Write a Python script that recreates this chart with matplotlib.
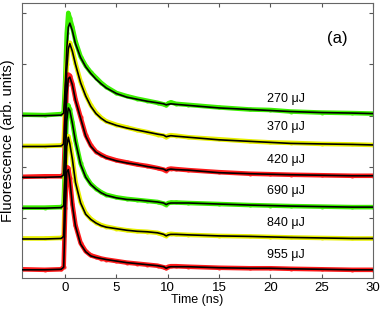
import numpy as np
import matplotlib
matplotlib.use("Agg")
import matplotlib.pyplot as plt

plt.rcParams['font.family'] = ['Liberation Sans', 'DejaVu Sans']

# ----------------------------------------------------------------------
#  Data (signal above each trace's own baseline)
# ----------------------------------------------------------------------
time_ns = [-4.2, -2.0, -0.4, -0.15, 0.0, 0.15, 0.3, 0.45, 0.7, 1.0, 1.5, 2.0,
           2.5, 3.0, 3.5, 4.0, 5.0, 6.0, 7.0, 8.0, 9.0, 9.6, 9.85, 10.05,
           10.3, 10.8, 12.0, 15.0, 18.0, 20.0, 22.0, 25.0, 28.0, 30.0]

labels = ["270 \u03bcJ", "370 \u03bcJ", "420 \u03bcJ", "690 \u03bcJ", "840 \u03bcJ", "955 \u03bcJ"]
offsets = [3.0, 2.4, 1.8, 1.2, 0.6, 0.0]
colors = ["#3cf000", "#e8f000", "#ff1a1a", "#3cf000", "#e8f000", "#ff1a1a"]

fit_270 = [0.0, 0.0, 0.01, 0.05, 0.6, 1.3, 1.72, 1.80, 1.65, 1.40, 1.13, 0.95,
           0.82, 0.71, 0.62, 0.54, 0.43, 0.36, 0.32, 0.28, 0.25, 0.23, 0.21, 0.22,
           0.23, 0.22, 0.20, 0.15, 0.12, 0.10, 0.08, 0.06, 0.05, 0.04]
fit_370 = [0.0, 0.0, 0.01, 0.05, 0.7, 1.5, 1.90, 2.00, 1.85, 1.60, 1.24, 0.98,
           0.78, 0.64, 0.55, 0.48, 0.41, 0.36, 0.32, 0.28, 0.24, 0.22, 0.19, 0.20,
           0.21, 0.20, 0.18, 0.13, 0.10, 0.08, 0.06, 0.05, 0.04, 0.03]
fit_420 = [0.0, 0.0, 0.01, 0.05, 0.8, 1.6, 1.92, 1.95, 1.80, 1.50, 1.15, 0.80,
           0.60, 0.49, 0.43, 0.38, 0.32, 0.28, 0.25, 0.21, 0.18, 0.16, 0.13, 0.15,
           0.16, 0.15, 0.14, 0.09, 0.07, 0.06, 0.05, 0.04, 0.03, 0.03]
fit_690 = [0.0, 0.0, 0.01, 0.05, 0.9, 1.7, 1.95, 1.90, 1.65, 1.30, 0.85, 0.60,
           0.46, 0.37, 0.30, 0.25, 0.20, 0.17, 0.16, 0.14, 0.12, 0.10, 0.07, 0.09,
           0.10, 0.10, 0.10, 0.08, 0.06, 0.05, 0.04, 0.03, 0.02, 0.02]
fit_840 = [0.0, 0.0, 0.01, 0.05, 1.0, 1.8, 1.98, 1.85, 1.55, 1.10, 0.70, 0.48,
           0.38, 0.31, 0.26, 0.23, 0.20, 0.17, 0.15, 0.14, 0.12, 0.09, 0.06, 0.08,
           0.09, 0.09, 0.08, 0.06, 0.05, 0.04, 0.03, 0.02, 0.01, 0.01]
fit_955 = [0.0, 0.0, 0.01, 0.05, 1.1, 1.9, 1.95, 1.75, 1.25, 0.85, 0.50, 0.35,
           0.27, 0.24, 0.22, 0.20, 0.17, 0.14, 0.12, 0.10, 0.08, 0.06, 0.03, 0.05,
           0.06, 0.06, 0.06, 0.04, 0.03, 0.03, 0.02, 0.01, 0.00, 0.00]

data_270 = [0.02, 0.01, 0.03, 0.06, 0.7, 1.6, 2.00, 1.90, 1.72, 1.45, 1.15, 0.97,
            0.84, 0.74, 0.64, 0.56, 0.44, 0.38, 0.33, 0.29, 0.25, 0.22, 0.20, 0.24,
            0.26, 0.23, 0.21, 0.16, 0.12, 0.11, 0.08, 0.06, 0.05, 0.04]
data_370 = [0.01, 0.01, 0.02, 0.06, 0.8, 1.6, 1.98, 2.02, 1.88, 1.62, 1.26, 1.00,
            0.80, 0.66, 0.56, 0.49, 0.42, 0.37, 0.32, 0.28, 0.23, 0.21, 0.18, 0.21,
            0.22, 0.21, 0.18, 0.14, 0.10, 0.08, 0.07, 0.05, 0.04, 0.03]
data_420 = [0.01, 0.02, 0.02, 0.06, 0.9, 1.8, 2.00, 1.98, 1.82, 1.52, 1.17, 0.82,
            0.62, 0.50, 0.44, 0.39, 0.33, 0.29, 0.25, 0.22, 0.18, 0.15, 0.13, 0.16,
            0.17, 0.16, 0.14, 0.10, 0.07, 0.06, 0.05, 0.04, 0.03, 0.03]
data_690 = [0.01, 0.01, 0.02, 0.06, 1.0, 1.8, 2.00, 1.92, 1.67, 1.32, 0.87, 0.62,
            0.47, 0.38, 0.31, 0.26, 0.21, 0.18, 0.16, 0.14, 0.12, 0.09, 0.07, 0.10,
            0.11, 0.11, 0.10, 0.08, 0.06, 0.05, 0.04, 0.03, 0.02, 0.02]
data_840 = [0.01, 0.01, 0.02, 0.06, 1.1, 1.9, 2.00, 1.87, 1.57, 1.12, 0.72, 0.50,
            0.39, 0.32, 0.27, 0.24, 0.20, 0.17, 0.15, 0.14, 0.12, 0.08, 0.06, 0.09,
            0.10, 0.09, 0.08, 0.06, 0.05, 0.04, 0.03, 0.02, 0.01, 0.01]
data_955 = [0.01, 0.00, 0.01, 0.06, 1.2, 2.0, 1.98, 1.78, 1.28, 0.87, 0.52, 0.36,
            0.28, 0.25, 0.22, 0.20, 0.17, 0.14, 0.12, 0.10, 0.08, 0.05, 0.03, 0.06,
            0.07, 0.07, 0.06, 0.04, 0.03, 0.03, 0.02, 0.01, 0.00, 0.00]

fits = [fit_270, fit_370, fit_420, fit_690, fit_840, fit_955]
datas = [data_270, data_370, data_420, data_690, data_840, data_955]

# label positions (ns, units above baseline)
label_t = 21.5
label_dy = [0.33, 0.37, 0.34, 0.33, 0.31, 0.28]

# ----------------------------------------------------------------------
#  Plot
# ----------------------------------------------------------------------
fig = plt.figure(figsize=(3.82, 3.11), dpi=100)
ax = fig.add_axes([0.058, 0.106, 0.918, 0.884])

t = np.array(time_ns)
for lab, off, col, dat, fit, dy in zip(labels, offsets, colors, datas, fits, label_dy):
    ax.plot(t, np.array(dat) + off, color=col, lw=3.3, solid_capstyle="round",
            solid_joinstyle="round", zorder=2)
    ax.plot(t, np.array(dat) + off, ls="none", marker="o", ms=3.0, mew=0,
            color=col, alpha=0.8, zorder=2)
    ax.plot(t, np.array(fit) + off, color="black", lw=1.2, zorder=3)
    ax.text(label_t, off + dy, lab, ha="center", va="center", fontsize=9)

ax.text(26.5, 4.51, "(a)", ha="center", va="center", fontsize=12)

ax.set_xlim(-4.2, 30)
ax.set_ylim(-0.16, 5.19)
ax.set_xticks([0, 5, 10, 15, 20, 25, 30])
ax.set_yticks([0, 1, 2, 3, 4, 5])
ax.set_yticklabels([])
ax.tick_params(direction="in", top=True, right=True, length=3, width=0.8,
               color="#555555", labelsize=9.5, pad=3)
for sp in ax.spines.values():
    sp.set_color("#666666")
    sp.set_linewidth(0.8)

ax.set_xlabel("Time (ns)", fontsize=9, labelpad=0)
ax.set_ylabel("Fluorescence (arb. units)", fontsize=10.5, labelpad=2)

plt.savefig("out.png", dpi=100)
